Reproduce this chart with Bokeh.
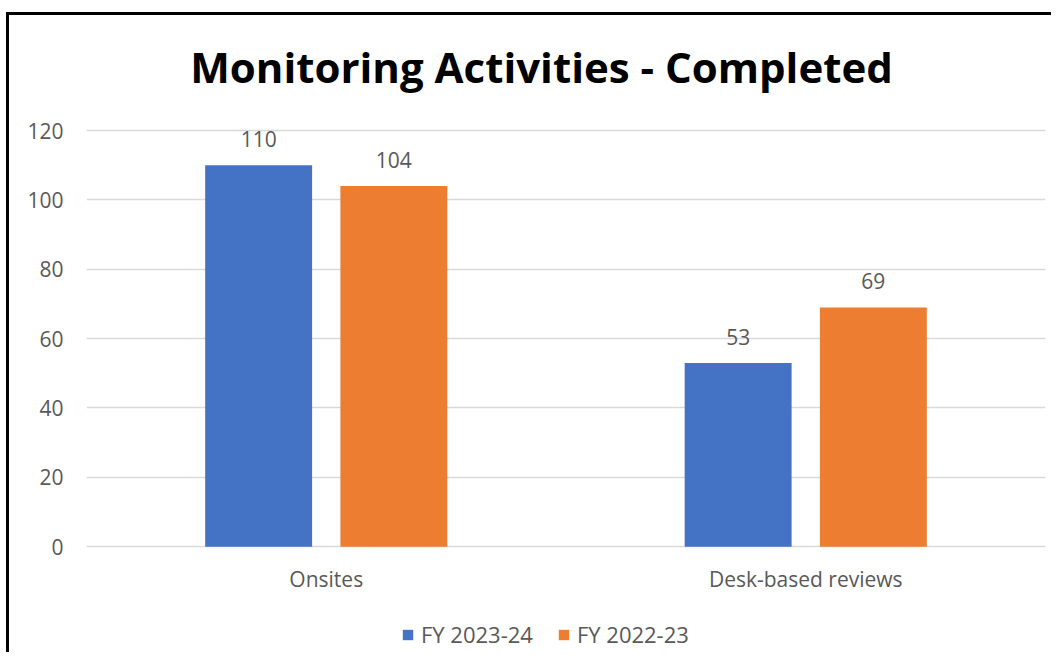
from bokeh.plotting import figure
from bokeh.models import (ColumnDataSource, FactorRange, Range1d, FixedTicker, LabelSet,
                          Label, Legend, LegendItem)
from bokeh.core.properties import value
from bokeh.transform import dodge
from bokeh.embed import file_html
from bokeh.resources import INLINE

title_text = "Monitoring Activities - Completed"
categories = ["Onsites", "Desk-based reviews"]
series_names = ["FY 2023-24", "FY 2022-23"]
fy2324 = [110, 53]
fy2223 = [104, 69]
y_ticks = [0, 20, 40, 60, 80, 100, 120]

BLUE = "#4472C4"
ORANGE = "#ED7D31"
GREY_TEXT = "#595959"
FONT = "Open Sans"

src = ColumnDataSource(dict(cat=categories, a=fy2324, b=fy2223,
                            la=[str(v) for v in fy2324], lb=[str(v) for v in fy2223],
                            base=[0] * len(categories)))

p = figure(x_range=FactorRange(factors=categories, range_padding=0),
           y_range=Range1d(-31.4, 153.2),
           x_axis_location=None,
           width=1045, height=640, output_backend="svg", toolbar_location=None,
           min_border_left=77, min_border_right=9, min_border_top=0, min_border_bottom=0)

p.styles = {"border-left": "3px solid #000", "border-top": "3px solid #000",
            "margin-top": "12px", "margin-left": "6px"}

# chart title, centred on the chart area (slightly left of the plot-area centre)
p.add_layout(Label(x=len(categories) / 2, y=y_ticks[-1], x_offset=-24.5, y_offset=64,
                   text=title_text, text_align="center", text_baseline="alphabetic",
                   text_font=FONT, text_font_style="bold", text_font_size="42px",
                   text_color="#000000"))

rb = p.vbar(x=dodge("cat", -0.141, range=p.x_range), top="a", width=0.223, source=src,
            fill_color=BLUE, line_color=None)
ro = p.vbar(x=dodge("cat", 0.141, range=p.x_range), top="b", width=0.223, source=src,
            fill_color=ORANGE, line_color=None)

for col, lab, off in (("a", "la", -0.141), ("b", "lb", 0.141)):
    ls = LabelSet(x=dodge("cat", off, range=p.x_range), y=col, text=lab, source=src,
                  text_align="center", text_baseline="alphabetic", y_offset=18,
                  text_font=value(FONT), text_font_size=value("21px"), text_color=GREY_TEXT)
    p.add_layout(ls)

# category labels under the baseline
cat_labels = LabelSet(x="cat", y="base", text="cat", source=src,
                      text_align="center", text_baseline="top", y_offset=-18,
                      text_font=value(FONT), text_font_size=value("21px"), text_color=GREY_TEXT)
p.add_layout(cat_labels)

p.yaxis.ticker = FixedTicker(ticks=y_ticks)
p.yaxis.axis_line_color = None
p.yaxis.major_tick_line_color = None
p.yaxis.minor_tick_line_color = None
p.yaxis.major_tick_out = 0
p.yaxis.major_tick_in = 0
p.yaxis.major_label_standoff = 23
p.yaxis.major_label_text_font = FONT
p.yaxis.major_label_text_font_size = "21px"
p.yaxis.major_label_text_color = GREY_TEXT

p.xgrid.grid_line_color = None
p.ygrid.ticker = FixedTicker(ticks=y_ticks)
p.ygrid.grid_line_color = "#D9D9D9"
p.ygrid.grid_line_width = 1.5
p.outline_line_color = None

legend = Legend(items=[LegendItem(label=series_names[0], renderers=[rb]),
                       LegendItem(label=series_names[1], renderers=[ro])],
                orientation="horizontal", location=(315, 6),
                glyph_width=13, glyph_height=13, label_standoff=7, spacing=24,
                padding=0, margin=0, border_line_color=None, background_fill_alpha=0,
                label_text_font=FONT, label_text_font_size="22px", label_text_color=GREY_TEXT)
p.add_layout(legend, "center")

open("out.html", "w").write(file_html(p, INLINE))
